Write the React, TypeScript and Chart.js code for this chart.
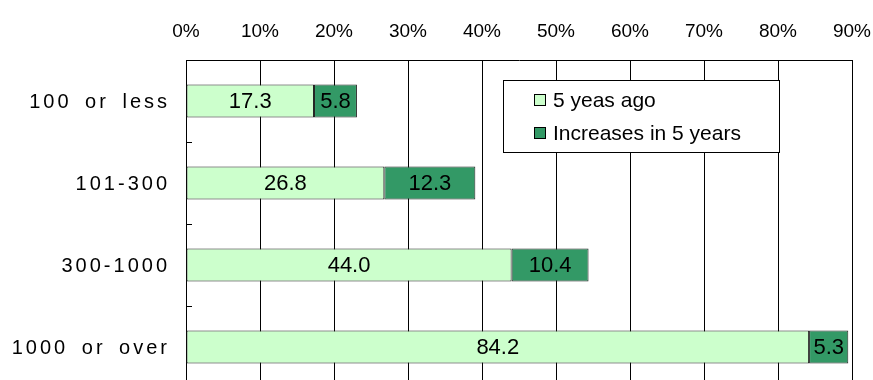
import React, { useEffect, useRef } from "react";
import { Chart, registerables } from "chart.js";

Chart.register(...registerables);

const categories = ["100 or less", "101-300", "300-1000", "1000 or over"];
const fiveYearsAgo = [17.3, 26.8, 44.0, 84.2];
const increases = [5.8, 12.3, 10.4, 5.3];
const seriesLabels = ["5 yeas ago", "Increases in 5 years"];
const xMin = 0;
const xMax = 90;
const xStep = 10;

const LIGHT = "#CCFFCC";
const DARK = "#339966";
const FONT = "'Liberation Sans', Arial, sans-serif";

const customPlugin = {
  id: "customDraw",
  afterDatasetsDraw(chart: any) {
    const ctx = chart.ctx;
    ctx.save();
    ctx.font = `22px ${FONT}`;
    ctx.fillStyle = "#000";
    ctx.textAlign = "center";
    ctx.textBaseline = "middle";
    chart.data.datasets.forEach((ds: any, di: number) => {
      const meta = chart.getDatasetMeta(di);
      meta.data.forEach((bar: any, i: number) => {
        const p = bar.getProps(["x", "y", "base"], true);
        const cx = (p.x + p.base) / 2;
        ctx.fillText(Number(ds.data[i]).toFixed(1), cx, p.y + 1);
      });
    });
    ctx.restore();
  },
  afterDraw(chart: any) {
    const ctx = chart.ctx;
    const yScale = chart.scales.y;
    const area = chart.chartArea;
    ctx.save();
    // category labels
    ctx.font = `20px ${FONT}`;
    ctx.fillStyle = "#000";
    ctx.textAlign = "right";
    ctx.textBaseline = "middle";
    try {
      (ctx as any).letterSpacing = "3px";
      (ctx as any).wordSpacing = "5px";
    } catch (e) {}
    chart.data.labels.forEach((lab: string, i: number) => {
      const y = yScale.getPixelForValue(i);
      ctx.fillText(lab, area.left - 16, y + 1);
    });
    try {
      (ctx as any).letterSpacing = "0px";
      (ctx as any).wordSpacing = "0px";
    } catch (e) {}
    // inward ticks at category boundaries
    ctx.strokeStyle = "#000";
    ctx.lineWidth = 1;
    const n = chart.data.labels.length;
    for (let i = 0; i < n - 1; i++) {
      const yb = Math.round((yScale.getPixelForValue(i) + yScale.getPixelForValue(i + 1)) / 2) + 0.5;
      ctx.beginPath();
      ctx.moveTo(area.left, yb);
      ctx.lineTo(area.left + 6, yb);
      ctx.stroke();
    }
    // legend box
    const bx = 503.5, by = 80.5, bw = 276, bh = 72;
    ctx.fillStyle = "#fff";
    ctx.fillRect(bx, by, bw, bh);
    ctx.strokeStyle = "#000";
    ctx.strokeRect(bx, by, bw, bh);
    ctx.font = `21px ${FONT}`;
    ctx.textAlign = "left";
    ctx.textBaseline = "middle";
    const rows = [100, 133];
    chart.data.datasets.forEach((ds: any, di: number) => {
      const ry = rows[di];
      ctx.fillStyle = ds.backgroundColor;
      ctx.fillRect(534.5, ry - 5.5, 11, 11);
      ctx.strokeStyle = "#000";
      ctx.strokeRect(534.5, ry - 5.5, 11, 11);
      ctx.fillStyle = "#000";
      ctx.fillText(ds.label, 553, ry + 1);
    });
    ctx.restore();
  },
};

export default function App() {
  const ref = useRef<HTMLCanvasElement | null>(null);
  useEffect(() => {
    if (!ref.current) return;
    const chart = new Chart(ref.current, {
      type: "bar",
      data: {
        labels: categories,
        datasets: [
          {
            label: seriesLabels[0],
            data: fiveYearsAgo,
            backgroundColor: LIGHT,
            borderColor: "#222",
            borderWidth: 1,
            borderSkipped: false,
            barPercentage: 0.4,
            categoryPercentage: 1,
          },
          {
            label: seriesLabels[1],
            data: increases,
            backgroundColor: DARK,
            borderColor: "#222",
            borderWidth: 1,
            borderSkipped: false,
            barPercentage: 0.4,
            categoryPercentage: 1,
          },
        ],
      },
      options: {
        indexAxis: "y",
        responsive: false,
        animation: false,
        devicePixelRatio: 1,
        layout: { padding: { left: 0, right: 21, top: 0, bottom: 22 } },
        plugins: { legend: { display: false }, tooltip: { enabled: false } },
        scales: {
          x: {
            position: "top",
            stacked: true,
            min: xMin,
            max: xMax,
            ticks: {
              stepSize: xStep,
              callback: (v: any) => v + "%",
              color: "#000",
              font: { family: FONT, size: 19 },
              padding: 17,
              maxRotation: 0,
            },
            grid: { color: "#000", drawTicks: false, lineWidth: 1 },
            border: { color: "#000", width: 1 },
            afterFit: (s: any) => {
              s.height = 60;
              s.paddingLeft = 0;
              s.paddingRight = 0;
            },
          },
          y: {
            stacked: true,
            ticks: { display: false },
            grid: { display: false },
            border: { color: "#000", width: 1 },
            afterFit: (s: any) => {
              s.width = 186;
            },
          },
        },
      },
      plugins: [customPlugin],
    } as any);
    return () => chart.destroy();
  }, []);
  return (
    <div style={{ position: "fixed", left: 0, top: 0, width: 873, height: 410, background: "#fff" }}>
      <canvas ref={ref} width={873} height={410} style={{ display: "block" }} />
    </div>
  );
}
